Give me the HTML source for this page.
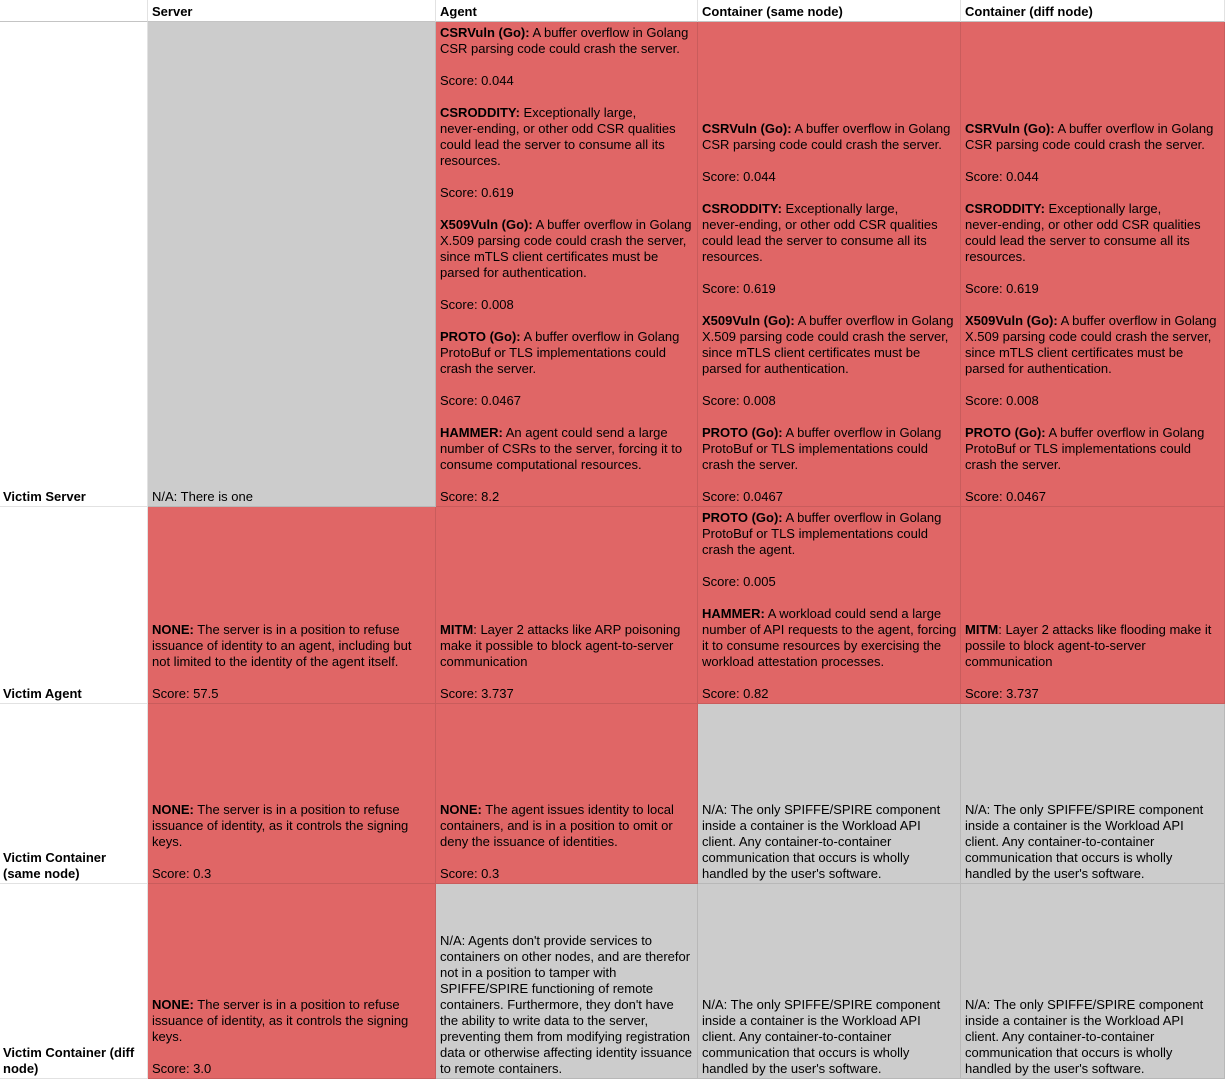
<!DOCTYPE html>
<html><head><meta charset="utf-8"><style>
body{margin:0;width:1225px;height:1080px;background:#fff;position:relative;overflow:hidden;font-family:"Liberation Sans",Arial,sans-serif;font-size:13px;color:#000}
.c{position:absolute;box-sizing:border-box;display:flex;flex-direction:column;justify-content:flex-end;padding:0 3px 1px 4px;line-height:16px;white-space:nowrap;border-right:1px solid #d4d4d4;border-bottom:1px solid #d4d4d4;overflow:hidden}
.h{justify-content:flex-start;font-weight:bold;padding-top:4px;border-bottom:1px solid #c4c4c4;border-right:1px solid #e2e2e2}
.r{background:#e06666;border-color:#c95c5c}
.g{background:#cccccc;border-color:#b8b8b8}
.w{border-color:#e2e2e2;font-weight:bold;padding-left:3px}
.t{justify-content:flex-start;padding-top:3px}
b{font-weight:bold}
</style></head><body>
<div class="c h" style="left:0;top:0;width:148px;height:22px"></div>
<div class="c h" style="left:148px;top:0;width:288px;height:22px">Server</div>
<div class="c h" style="left:436px;top:0;width:262px;height:22px">Agent</div>
<div class="c h" style="left:698px;top:0;width:263px;height:22px">Container (same node)</div>
<div class="c h" style="left:961px;top:0;width:264px;height:22px">Container (diff node)</div>

<div class="c w" style="left:0;top:22px;width:148px;height:485px">Victim Server</div>
<div class="c g" style="left:148px;top:22px;width:288px;height:485px">N/A: There is one</div>
<div class="c r t" style="left:436px;top:22px;width:262px;height:485px"><div><b>CSRVuln (Go):</b> A buffer overflow in Golang<br>CSR parsing code could crash the server.<br><br>Score: 0.044<br><br><b>CSRODDITY:</b> Exceptionally large,<br>never-ending, or other odd CSR qualities<br>could lead the server to consume all its<br>resources.<br><br>Score: 0.619<br><br><b>X509Vuln (Go):</b> A buffer overflow in Golang<br>X.509 parsing code could crash the server,<br>since mTLS client certificates must be<br>parsed for authentication.<br><br>Score: 0.008<br><br><b>PROTO (Go):</b> A buffer overflow in Golang<br>ProtoBuf or TLS implementations could<br>crash the server.<br><br>Score: 0.0467<br><br><b>HAMMER:</b> An agent could send a large<br>number of CSRs to the server, forcing it to<br>consume computational resources.<br><br>Score: 8.2</div></div>
<div class="c r" style="left:698px;top:22px;width:263px;height:485px"><div><b>CSRVuln (Go):</b> A buffer overflow in Golang<br>CSR parsing code could crash the server.<br><br>Score: 0.044<br><br><b>CSRODDITY:</b> Exceptionally large,<br>never-ending, or other odd CSR qualities<br>could lead the server to consume all its<br>resources.<br><br>Score: 0.619<br><br><b>X509Vuln (Go):</b> A buffer overflow in Golang<br>X.509 parsing code could crash the server,<br>since mTLS client certificates must be<br>parsed for authentication.<br><br>Score: 0.008<br><br><b>PROTO (Go):</b> A buffer overflow in Golang<br>ProtoBuf or TLS implementations could<br>crash the server.<br><br>Score: 0.0467</div></div>
<div class="c r" style="left:961px;top:22px;width:264px;height:485px"><div><b>CSRVuln (Go):</b> A buffer overflow in Golang<br>CSR parsing code could crash the server.<br><br>Score: 0.044<br><br><b>CSRODDITY:</b> Exceptionally large,<br>never-ending, or other odd CSR qualities<br>could lead the server to consume all its<br>resources.<br><br>Score: 0.619<br><br><b>X509Vuln (Go):</b> A buffer overflow in Golang<br>X.509 parsing code could crash the server,<br>since mTLS client certificates must be<br>parsed for authentication.<br><br>Score: 0.008<br><br><b>PROTO (Go):</b> A buffer overflow in Golang<br>ProtoBuf or TLS implementations could<br>crash the server.<br><br>Score: 0.0467</div></div>

<div class="c w" style="left:0;top:507px;width:148px;height:197px">Victim Agent</div>
<div class="c r" style="left:148px;top:507px;width:288px;height:197px"><div><b>NONE:</b> The server is in a position to refuse<br>issuance of identity to an agent, including but<br>not limited to the identity of the agent itself.<br><br>Score: 57.5</div></div>
<div class="c r" style="left:436px;top:507px;width:262px;height:197px"><div><b>MITM</b>: Layer 2 attacks like ARP poisoning<br>make it possible to block agent-to-server<br>communication<br><br>Score: 3.737</div></div>
<div class="c r" style="left:698px;top:507px;width:263px;height:197px"><div><b>PROTO (Go):</b> A buffer overflow in Golang<br>ProtoBuf or TLS implementations could<br>crash the agent.<br><br>Score: 0.005<br><br><b>HAMMER:</b> A workload could send a large<br>number of API requests to the agent, forcing<br>it to consume resources by exercising the<br>workload attestation processes.<br><br>Score: 0.82</div></div>
<div class="c r" style="left:961px;top:507px;width:264px;height:197px"><div><b>MITM</b>: Layer 2 attacks like flooding make it<br>possile to block agent-to-server<br>communication<br><br>Score: 3.737</div></div>

<div class="c w" style="left:0;top:704px;width:148px;height:180px"><div>Victim Container<br>(same node)</div></div>
<div class="c r" style="left:148px;top:704px;width:288px;height:180px"><div><b>NONE:</b> The server is in a position to refuse<br>issuance of identity, as it controls the signing<br>keys.<br><br>Score: 0.3</div></div>
<div class="c r" style="left:436px;top:704px;width:262px;height:180px"><div><b>NONE:</b> The agent issues identity to local<br>containers, and is in a position to omit or<br>deny the issuance of identities.<br><br>Score: 0.3</div></div>
<div class="c g" style="left:698px;top:704px;width:263px;height:180px"><div>N/A: The only SPIFFE/SPIRE component<br>inside a container is the Workload API<br>client. Any container-to-container<br>communication that occurs is wholly<br>handled by the user's software.</div></div>
<div class="c g" style="left:961px;top:704px;width:264px;height:180px"><div>N/A: The only SPIFFE/SPIRE component<br>inside a container is the Workload API<br>client. Any container-to-container<br>communication that occurs is wholly<br>handled by the user's software.</div></div>

<div class="c w" style="left:0;top:884px;width:148px;height:195px"><div>Victim Container (diff<br>node)</div></div>
<div class="c r" style="left:148px;top:884px;width:288px;height:195px"><div><b>NONE:</b> The server is in a position to refuse<br>issuance of identity, as it controls the signing<br>keys.<br><br>Score: 3.0</div></div>
<div class="c g" style="left:436px;top:884px;width:262px;height:195px"><div>N/A: Agents don't provide services to<br>containers on other nodes, and are therefor<br>not in a position to tamper with<br>SPIFFE/SPIRE functioning of remote<br>containers. Furthermore, they don't have<br>the ability to write data to the server,<br>preventing them from modifying registration<br>data or otherwise affecting identity issuance<br>to remote containers.</div></div>
<div class="c g" style="left:698px;top:884px;width:263px;height:195px"><div>N/A: The only SPIFFE/SPIRE component<br>inside a container is the Workload API<br>client. Any container-to-container<br>communication that occurs is wholly<br>handled by the user's software.</div></div>
<div class="c g" style="left:961px;top:884px;width:264px;height:195px"><div>N/A: The only SPIFFE/SPIRE component<br>inside a container is the Workload API<br>client. Any container-to-container<br>communication that occurs is wholly<br>handled by the user's software.</div></div>
</body></html>
